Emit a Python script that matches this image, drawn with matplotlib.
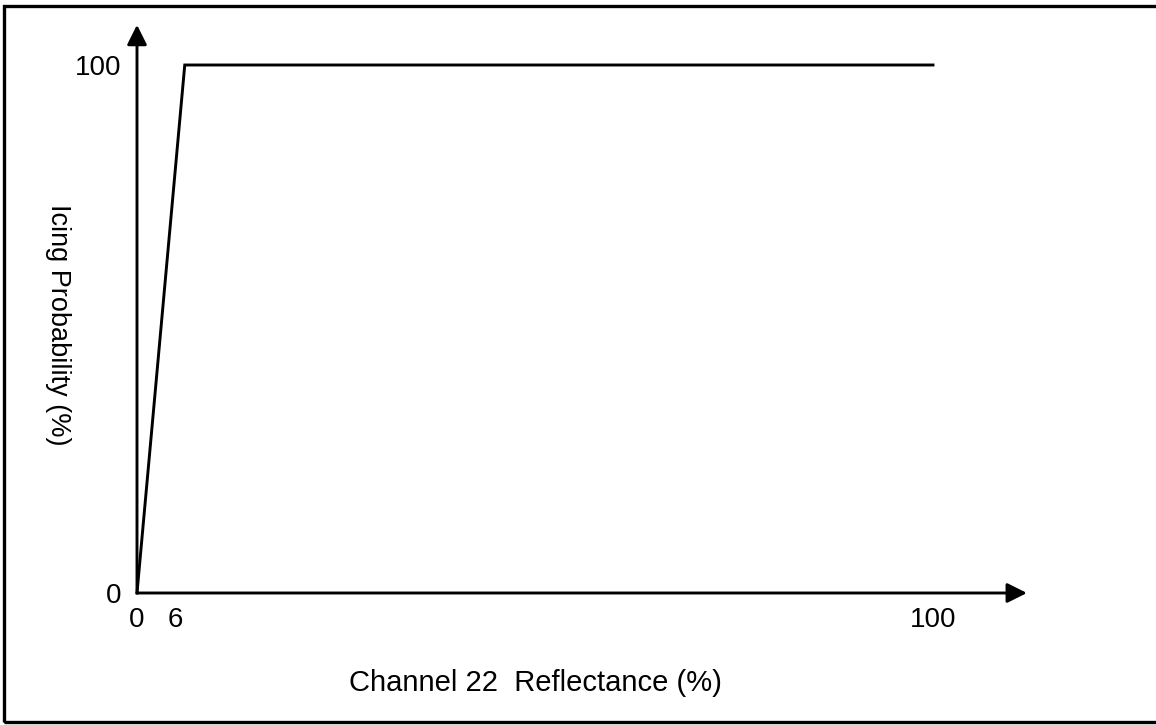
import matplotlib
matplotlib.use("Agg")
import matplotlib.pyplot as plt
import matplotlib.transforms as mtransforms
from matplotlib.patches import Rectangle

reflectance = [0, 6, 100]
probability = [0, 100, 100]
x_ticks = [0, 6, 100]
x_tick_labels = ["0", "6", "100"]
y_ticks = [0, 100]
y_tick_labels = ["0", "100"]

W, H = 1156, 725
fig = plt.figure(figsize=(W / 100, H / 100), dpi=100)
plt.rcParams['font.family'] = ['Liberation Sans', 'DejaVu Sans']

x0, x1 = 137, 933
y0, y1 = 593, 65
ax = fig.add_axes([x0 / W, (H - y0) / H, (x1 - x0) / W, (y0 - y1) / H])
ax.set_xlim(0, 100)
ax.set_ylim(0, 100)
for s in ax.spines.values():
    s.set_visible(False)
ax.patch.set_alpha(0)

ax.plot(reflectance, probability, color='black', lw=2.1, solid_joinstyle='miter', clip_on=False)

# axes with arrows
ax.annotate('', xy=(111.8, 0), xytext=(0, 0), xycoords='data',
            arrowprops=dict(arrowstyle='-|>', mutation_scale=30, lw=2.1, color='black',
                            shrinkA=0, shrinkB=0), annotation_clip=False)
ax.annotate('', xy=(0, 107.6), xytext=(0, 0), xycoords='data',
            arrowprops=dict(arrowstyle='-|>', mutation_scale=30, lw=2.1, color='black',
                            shrinkA=0, shrinkB=0), annotation_clip=False)

ax.set_xticks(x_ticks)
ax.set_xticklabels(x_tick_labels, fontsize=20)
ax.set_yticks(y_ticks)
ax.set_yticklabels(y_tick_labels, fontsize=20)
ax.tick_params(axis='x', length=0, pad=10)
ax.tick_params(axis='y', length=0, pad=11)

# the "6" label sits slightly left of its data position in the reference
lbl6 = ax.get_xticklabels()[1]
lbl6.set_transform(lbl6.get_transform() +
                   mtransforms.ScaledTranslation(-9 / 100, 0, fig.dpi_scale_trans))

fig.text(535 / W, 1 - 683 / H, "Channel 22  Reflectance (%)", fontsize=21,
         ha='center', va='center')
fig.text(58 / W, 1 - 325 / H, "Icing Probability (%)", fontsize=19.5,
         ha='center', va='center', rotation=270)

# frame around figure
fig.patches.append(Rectangle((4 / W, 1 - 722 / H), 1.2, (722 - 6) / H,
                             transform=fig.transFigure, fill=False,
                             edgecolor='black', lw=2.4, figure=fig))

fig.savefig("out.png", dpi=100)
